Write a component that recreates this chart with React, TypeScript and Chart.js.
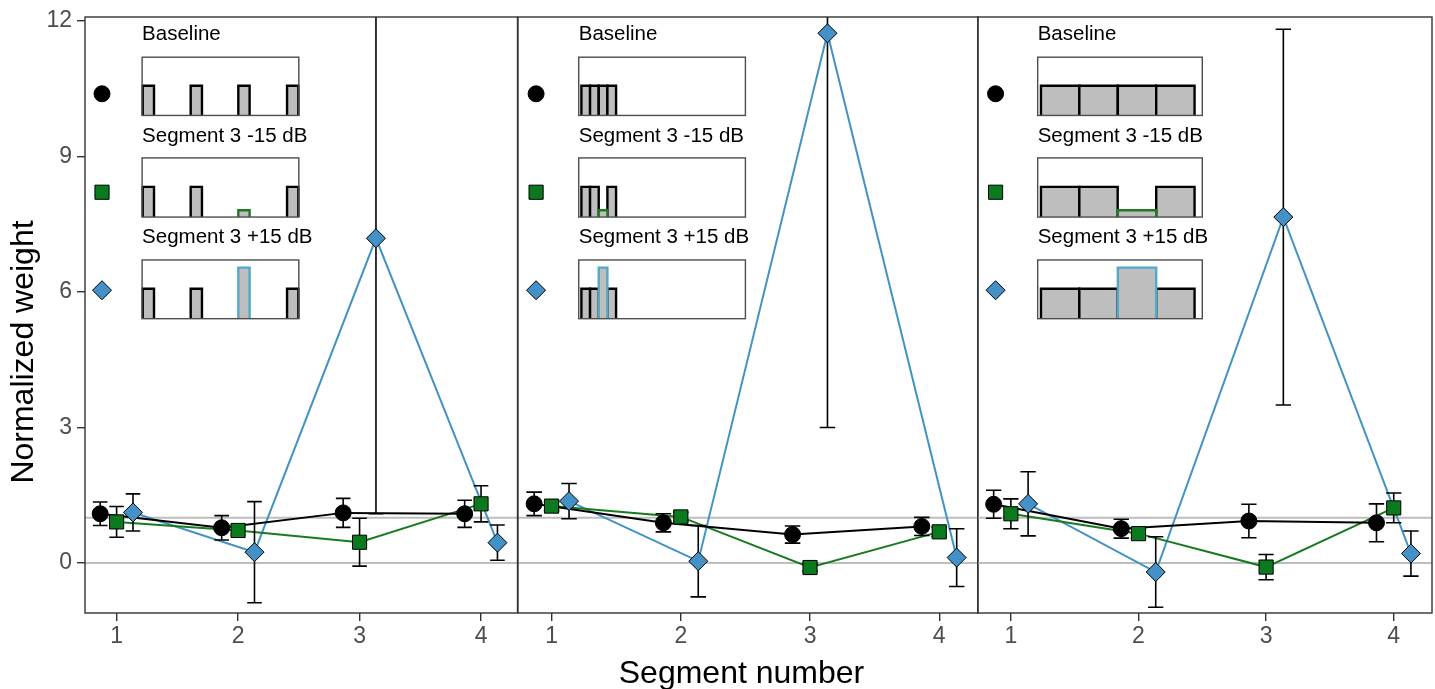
import React, { useEffect, useRef } from "react";
import { Chart, registerables } from "chart.js";

Chart.register(...registerables);

const FONT = '"Liberation Sans", Arial, Helvetica, sans-serif';

// ---------------- data ----------------
const segments = [1, 2, 3, 4];
const xTickValues = [1, 2, 3, 4];
const yTickValues = [0, 3, 6, 9, 12];
const referenceLines = [0, 1];
const seriesLabels = ["Baseline", "Segment 3 -15 dB", "Segment 3 +15 dB"];
const xAxisTitle = "Segment number";
const yAxisTitle = "Normalized weight";

// Panel 1
const p1Baseline = [1.09, 0.78, 1.11, 1.09];
const p1BaselineErr = [0.26, 0.27, 0.32, 0.3];
const p1Minus15 = [0.91, 0.72, 0.46, 1.31];
const p1Minus15Err = [0.34, 0.1, 0.53, 0.4];
const p1Plus15 = [1.12, 0.24, 7.19, 0.45];
const p1Plus15Err = [0.41, 1.12, 6.1, 0.39];

// Panel 2
const p2Baseline = [1.31, 0.89, 0.63, 0.81];
const p2BaselineErr = [0.26, 0.2, 0.19, 0.2];
const p2Minus15 = [1.26, 1.02, -0.1, 0.69];
const p2Minus15Err = [0.1, 0.1, 0.08, 0.1];
const p2Plus15 = [1.37, 0.04, 11.73, 0.12];
const p2Plus15Err = [0.39, 0.79, 8.73, 0.64];

// Panel 3
const p3Baseline = [1.3, 0.76, 0.93, 0.89];
const p3BaselineErr = [0.31, 0.21, 0.37, 0.42];
const p3Minus15 = [1.09, 0.65, -0.09, 1.22];
const p3Minus15Err = [0.33, 0.1, 0.28, 0.33];
const p3Plus15 = [1.31, -0.2, 7.66, 0.21];
const p3Plus15Err = [0.71, 0.78, 4.16, 0.5];

// schematic stimulus levels (fraction of inset height) per condition
const schemBaselineLevels = [0.51, 0.51, 0.51, 0.51];
const schemMinus15Levels = [0.51, 0.51, 0.115, 0.51];
const schemPlus15Levels = [0.51, 0.51, 0.87, 0.51];

// ---------------- styles / layout ----------------
const X_RANGE = [0.74, 4.3];
const Y_RANGE = [-1.107, 12.09];
const DODGE = [-0.135, 0, 0.135];
const CAP_HALF = 0.06;

const seriesStyles = [
  { line: "#000000", fill: "#000000", shape: "circle", radius: 8, highlight: "#000000" },
  { line: "#177A1E", fill: "#0B7A1E", shape: "rect", radius: 10, highlight: "#1F7A22" },
  { line: "#4393C3", fill: "#4391C6", shape: "rectRot", radius: 9.5, highlight: "#4FAACB" },
];

const legendLayout = {
  boxX: [1.21, 2.5],
  boxTop: [11.2, 8.97, 6.71],
  boxBottom: [9.91, 7.66, 5.41],
  textY: [11.7, 9.45, 7.2],
  markerX: 0.88,
  markerY: [10.39, 8.21, 6.04],
  highlightSegment: 2,
};

const schemLevels = [schemBaselineLevels, schemMinus15Levels, schemPlus15Levels];

const panels = [
  {
    mean: [p1Baseline, p1Minus15, p1Plus15],
    err: [p1BaselineErr, p1Minus15Err, p1Plus15Err],
    left: 0, width: 518, padLeft: 0, padRight: 0.5, showY: true, xTitle: false,
    bars: { starts: [0.004, 0.31, 0.614, 0.925], width: 0.072 },
  },
  {
    mean: [p2Baseline, p2Minus15, p2Plus15],
    err: [p2BaselineErr, p2Minus15Err, p2Plus15Err],
    left: 517, width: 462, padLeft: 1, padRight: 1, showY: false, xTitle: true,
    bars: { starts: [0.016, 0.068, 0.12, 0.172], width: 0.052 },
  },
  {
    mean: [p3Baseline, p3Minus15, p3Plus15],
    err: [p3BaselineErr, p3Minus15Err, p3Plus15Err],
    left: 977, width: 458, padLeft: 0.7, padRight: 3, showY: false, xTitle: false,
    bars: { starts: [0.02, 0.253, 0.487, 0.72], width: 0.233 },
  },
];

function drawMarker(ctx: CanvasRenderingContext2D, shape: string, x: number, y: number, r: number, fill: string) {
  ctx.beginPath();
  if (shape === "circle") {
    ctx.arc(x, y, r, 0, Math.PI * 2);
  } else if (shape === "rect") {
    const s = r * Math.SQRT1_2;
    ctx.rect(x - s, y - s, 2 * s, 2 * s);
  } else {
    ctx.moveTo(x, y - r);
    ctx.lineTo(x + r, y);
    ctx.lineTo(x, y + r);
    ctx.lineTo(x - r, y);
    ctx.closePath();
  }
  ctx.fillStyle = fill;
  ctx.fill();
  ctx.strokeStyle = "#000";
  ctx.lineWidth = 1;
  ctx.stroke();
}

function makePlugin(panel: any, idx: number) {
  return {
    id: "panelDeco" + idx,
    beforeDatasetsDraw(chart: any) {
      const { ctx, chartArea: a, scales } = chart;
      const x = scales.x;
      const y = scales.y;
      ctx.save();
      // reference lines
      ctx.strokeStyle = "#BEBEBE";
      ctx.lineWidth = 2;
      referenceLines.forEach((v) => {
        const py = y.getPixelForValue(v);
        ctx.beginPath();
        ctx.moveTo(a.left, py);
        ctx.lineTo(a.right, py);
        ctx.stroke();
      });
      // legend inset
      const lx0 = x.getPixelForValue(legendLayout.boxX[0]);
      const lx1 = x.getPixelForValue(legendLayout.boxX[1]);
      const bw = lx1 - lx0;
      for (let k = 0; k < 3; k++) {
        const top = y.getPixelForValue(legendLayout.boxTop[k]);
        const bot = y.getPixelForValue(legendLayout.boxBottom[k]);
        const bh = bot - top;
        ctx.fillStyle = "#000";
        ctx.font = `20.5px ${FONT}`;
        ctx.textAlign = "left";
        ctx.textBaseline = "middle";
        ctx.fillText(seriesLabels[k], lx0, y.getPixelForValue(legendLayout.textY[k]));
        const st = seriesStyles[k];
        drawMarker(ctx, st.shape, x.getPixelForValue(legendLayout.markerX), y.getPixelForValue(legendLayout.markerY[k]), st.radius, st.fill);
        ctx.fillStyle = "#fff";
        ctx.fillRect(lx0, top, bw, bh);
        const levels = schemLevels[k];
        const order = [0, 1, 2, 3].filter((j) => !(k > 0 && j === legendLayout.highlightSegment));
        if (k > 0) order.push(legendLayout.highlightSegment);
        order.forEach((j) => {
          const bx0 = lx0 + panel.bars.starts[j] * bw;
          const bx1 = bx0 + panel.bars.width * bw;
          const bt = bot - levels[j] * bh;
          ctx.fillStyle = "#BEBEBE";
          ctx.fillRect(bx0, bt, bx1 - bx0, bot - bt);
          ctx.beginPath();
          ctx.moveTo(bx0, bot);
          ctx.lineTo(bx0, bt);
          ctx.lineTo(bx1, bt);
          ctx.lineTo(bx1, bot);
          ctx.strokeStyle = k > 0 && j === legendLayout.highlightSegment ? st.highlight : "#000";
          ctx.lineWidth = 2.4;
          ctx.lineJoin = "miter";
          ctx.stroke();
        });
        ctx.strokeStyle = "#4D4D4D";
        ctx.lineWidth = 1.4;
        ctx.strokeRect(lx0, top, bw, bh);
      }
      ctx.restore();
    },
    beforeDatasetDraw(chart: any, args: any) {
      const ds = chart.data.datasets[args.index];
      if (!ds.errorAnchor) return;
      const { ctx, chartArea: a, scales } = chart;
      const x = scales.x;
      const y = scales.y;
      ctx.save();
      ctx.beginPath();
      ctx.rect(a.left, a.top, a.right - a.left, a.bottom - a.top);
      ctx.clip();
      ctx.strokeStyle = "#000";
      ctx.lineWidth = 1.6;
      for (let k = 0; k < 3; k++) {
        panel.mean[k].forEach((m: number, i: number) => {
          const xv = segments[i] + DODGE[k];
          const px = x.getPixelForValue(xv);
          const cap = Math.abs(x.getPixelForValue(xv + CAP_HALF) - px);
          const e = panel.err[k][i];
          const pLo = y.getPixelForValue(m - e);
          const pHi = y.getPixelForValue(m + e);
          ctx.beginPath();
          ctx.moveTo(px, pLo);
          ctx.lineTo(px, pHi);
          ctx.moveTo(px - cap, pLo);
          ctx.lineTo(px + cap, pLo);
          ctx.moveTo(px - cap, pHi);
          ctx.lineTo(px + cap, pHi);
          ctx.stroke();
        });
      }
      ctx.restore();
    },
    afterDraw(chart: any) {
      const { ctx, chartArea: a } = chart;
      ctx.save();
      ctx.strokeStyle = "#333333";
      ctx.lineWidth = 1.4;
      ctx.strokeRect(a.left, a.top, a.right - a.left, a.bottom - a.top);
      ctx.fillStyle = "#000";
      ctx.font = `32px ${FONT}`;
      ctx.textAlign = "center";
      ctx.textBaseline = "alphabetic";
      if (panel.showY) {
        ctx.save();
        ctx.translate(32.5, 352);
        ctx.rotate(-Math.PI / 2);
        ctx.fillText(yAxisTitle, 0, 0);
        ctx.restore();
      }
      if (panel.xTitle) {
        ctx.fillText(xAxisTitle, 741.5 - panel.left, 683);
      }
      ctx.restore();
    },
  };
}

function buildConfig(panel: any, idx: number): any {
  const datasets: any[] = [];
  for (let k = 0; k < 3; k++) {
    const st = seriesStyles[k];
    const pts = panel.mean[k].map((v: number, i: number) => ({ x: segments[i] + DODGE[k], y: v }));
    datasets.push({
      label: seriesLabels[k] + " line",
      data: pts,
      borderColor: st.line,
      borderWidth: 2,
      pointRadius: 0,
      fill: false,
      tension: 0,
      order: 3 + k,
      clip: false,
    });
  }
  for (let k = 0; k < 3; k++) {
    const st = seriesStyles[k];
    const pts = panel.mean[k].map((v: number, i: number) => ({ x: segments[i] + DODGE[k], y: v }));
    datasets.push({
      label: seriesLabels[k],
      data: pts,
      showLine: false,
      pointStyle: st.shape,
      pointRadius: st.radius,
      pointBackgroundColor: st.fill,
      pointBorderColor: "#000",
      pointBorderWidth: 1,
      order: 2 - k,
      errorAnchor: k === 0,
      clip: false,
    });
  }
  const zeroPad = (s: any) => {
    s.paddingTop = 0;
    s.paddingBottom = 0;
    s.paddingLeft = 0;
    s.paddingRight = 0;
  };
  return {
    type: "line",
    data: { datasets },
    options: {
      animation: false,
      responsive: false,
      maintainAspectRatio: false,
      layout: { autoPadding: false, padding: { left: panel.padLeft, right: panel.padRight, top: 17, bottom: 0 } },
      plugins: { legend: { display: false }, tooltip: { enabled: false }, title: { display: false } },
      scales: {
        x: {
          type: "linear",
          min: X_RANGE[0],
          max: X_RANGE[1],
          afterBuildTicks: (s: any) => {
            s.ticks = xTickValues.map((v) => ({ value: v }));
          },
          afterFit: (s: any) => {
            s.height = 76;
            zeroPad(s);
          },
          grid: { display: true, drawOnChartArea: false, drawTicks: true, tickLength: 8, color: "#333333", lineWidth: 1.4 },
          border: { display: false },
          ticks: { font: { size: 23, family: FONT }, color: "#4D4D4D", padding: 2, maxRotation: 0, autoSkip: false },
        },
        y: {
          type: "linear",
          display: panel.showY,
          min: Y_RANGE[0],
          max: Y_RANGE[1],
          afterBuildTicks: (s: any) => {
            s.ticks = yTickValues.map((v) => ({ value: v }));
          },
          afterFit: (s: any) => {
            s.width = panel.showY ? 85 : 0;
            zeroPad(s);
          },
          grid: { display: true, drawOnChartArea: false, drawTicks: true, tickLength: 8, color: "#333333", lineWidth: 1.4 },
          border: { display: false },
          ticks: { font: { size: 23, family: FONT }, color: "#4D4D4D", padding: 5, autoSkip: false },
        },
      },
    },
    plugins: [makePlugin(panel, idx)],
  };
}

function Panel({ panel, idx }: { panel: any; idx: number }) {
  const ref = useRef<HTMLCanvasElement | null>(null);
  useEffect(() => {
    if (!ref.current) return;
    const chart = new Chart(ref.current, buildConfig(panel, idx));
    return () => chart.destroy();
  }, [panel, idx]);
  return (
    <canvas
      ref={ref}
      width={panel.width}
      height={689}
      style={{ position: "absolute", left: panel.left, top: 0, width: panel.width, height: 689 }}
    />
  );
}

export default function App() {
  return (
    <div style={{ position: "fixed", left: 0, top: 0, width: 1435, height: 689, background: "#ffffff", overflow: "hidden" }}>
      {panels.map((p, i) => (
        <Panel key={i} panel={p} idx={i} />
      ))}
    </div>
  );
}
